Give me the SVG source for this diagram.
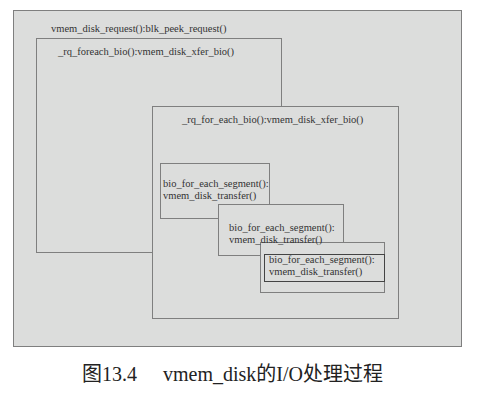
<svg xmlns="http://www.w3.org/2000/svg" width="503" height="408" viewBox="0 0 503 408">
<style>
.box{fill:#dcdddc;stroke:#7f7f7f;stroke-width:1}
.dark{fill:#dcdddc;stroke:#444;stroke-width:1}
.t{font-family:"Liberation Serif","Times New Roman",serif;font-size:10.5px;fill:#333}
.cap{font-family:"Liberation Serif","Noto Sans CJK SC",serif;font-size:20px;fill:#222}
</style>
<rect width="503" height="408" fill="#fff"/>
<g id="request">
<rect class="box" x="13.5" y="10.5" width="448" height="336"/>
<text class="t" x="51" y="32">vmem_disk_request():blk_peek_request()</text>
</g>
<g id="foreach1">
<rect class="box" x="36.5" y="38.5" width="245" height="214"/>
<text class="t" x="58" y="55">_rq_foreach_bio():vmem_disk_xfer_bio()</text>
</g>
<g id="foreach2">
<rect class="box" x="152.5" y="106.5" width="246" height="212"/>
<text class="t" x="182" y="123">_rq_for_each_bio():vmem_disk_xfer_bio()</text>
</g>
<g id="seg1">
<rect class="box" x="160.5" y="163.5" width="109" height="55"/>
</g>
<g id="seg2">
<rect class="box" x="218.5" y="204.5" width="125" height="51"/>
</g>
<g id="seg3">
<rect class="box" x="260.5" y="242.5" width="124" height="50"/>
<rect class="dark" x="264.5" y="254.5" width="120" height="27"/>
</g>
<g id="seg1-label">
<text class="t" x="163" y="187">bio_for_each_segment():</text>
<text class="t" x="163" y="199">vmem_disk_transfer()</text>
</g>
<g id="seg2-label">
<text class="t" x="229" y="231">bio_for_each_segment():</text>
<text class="t" x="229" y="243">vmem_disk_transfer()</text>
</g>
<g id="seg3-label">
<text class="t" x="269" y="263">bio_for_each_segment():</text>
<text class="t" x="269" y="275">vmem_disk_transfer()</text>
</g>
<g id="connectors"></g>
<text class="cap" x="82" y="381">图13.4</text>
<text class="cap" x="163" y="381">vmem_disk的I/O处理过程</text>
</svg>
